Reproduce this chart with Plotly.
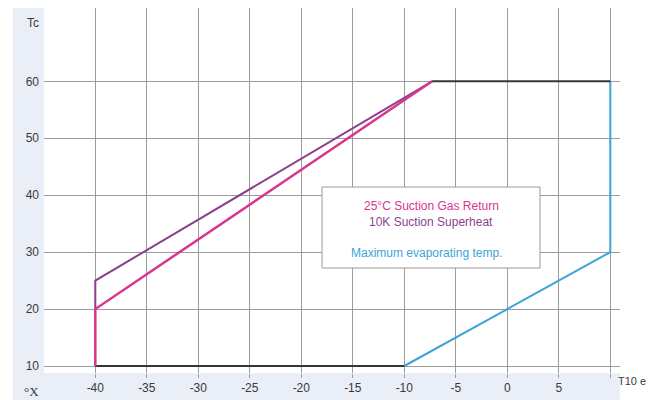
import plotly.graph_objects as go

# ---- data ----
x_ticks = [-40, -35, -30, -25, -20, -15, -10, -5, 0, 5, 10]
x_tick_labels = ["-40", "-35", "-30", "-25", "-20", "-15", "-10", "-5", "0", "5", ""]
y_ticks = [10, 20, 30, 40, 50, 60]
y_tick_labels = ["10", "20", "30", "40", "50", "60"]

low_x = [-40, -10]
low_y = [10, 10]
high_x = [-7.3, 10]
high_y = [60, 60]
max_evap_x = [-10, 10, 10]
max_evap_y = [10, 30, 60]
gas_return_x = [-40, -40, -7.3]
gas_return_y = [10, 20, 60]
superheat_x = [-40, -40, -7.3]
superheat_y = [20, 25, 60]

DARK = "#363636"
BLUE = "#3ea4d8"
MAGENTA = "#d8358f"
PURPLE = "#8c3f8c"
GRID = "#9c9c9c"
STRIP = "#eaeef7"
TXT = "#3a3a3a"

fig = go.Figure()
fig.add_trace(go.Scatter(x=max_evap_x, y=max_evap_y, mode="lines",
                         line=dict(color=BLUE, width=2), showlegend=False))
fig.add_trace(go.Scatter(x=low_x, y=low_y, mode="lines",
                         line=dict(color=DARK, width=2), showlegend=False))
fig.add_trace(go.Scatter(x=high_x, y=high_y, mode="lines",
                         line=dict(color=DARK, width=2), showlegend=False))
fig.add_trace(go.Scatter(x=superheat_x, y=superheat_y, mode="lines",
                         line=dict(color=PURPLE, width=2), showlegend=False))
fig.add_trace(go.Scatter(x=gas_return_x, y=gas_return_y, mode="lines",
                         line=dict(color=MAGENTA, width=2.5), showlegend=False))

L, R, T, B = 44, 42, 8, 27
W, H = 662, 400
pw, ph = W - L - R, H - T - B

def px(x):
    return (x - L) / pw

def py(y):
    return (H - B - y) / ph

shapes = [
    dict(type="rect", xref="paper", yref="paper", x0=px(13), x1=0, y0=py(400), y1=1,
         fillcolor=STRIP, line=dict(width=0), layer="below"),
    dict(type="rect", xref="paper", yref="paper", x0=px(13), x1=1, y0=py(400), y1=0,
         fillcolor=STRIP, line=dict(width=0), layer="below"),
    dict(type="rect", xref="paper", yref="paper", x0=px(322), x1=px(540), y0=py(268), y1=py(187),
         fillcolor="white", line=dict(color="#9a9a9a", width=1), layer="above"),
]

annotations = [
    dict(text="25°C Suction Gas Return", x=px(431), y=py(206), xref="paper", yref="paper",
         xanchor="center", yanchor="middle",
         showarrow=False, font=dict(color=MAGENTA, size=12)),
    dict(text="10K Suction Superheat", x=px(431), y=py(221.5), xref="paper", yref="paper",
         xanchor="center", yanchor="middle",
         showarrow=False, font=dict(color=PURPLE, size=12)),
    dict(text="Maximum evaporating temp.", x=px(426), y=py(253), xref="paper", yref="paper",
         xanchor="center", yanchor="middle",
         showarrow=False, font=dict(color=BLUE, size=12)),
    dict(text="Tc", x=px(41), y=py(22.5), xref="paper", yref="paper", xanchor="right",
         yanchor="middle", showarrow=False, font=dict(color=TXT, size=12)),
    dict(text="°X", x=px(40.5), y=py(392), xref="paper", yref="paper", xanchor="right",
         yanchor="middle", showarrow=False,
         font=dict(color=TXT, size=13, family="Liberation Serif, serif")),
    dict(text="T10 e", x=px(616), y=py(381), xref="paper", yref="paper", xanchor="left",
         yanchor="middle", showarrow=False, font=dict(color=TXT, size=11)),
]

x0 = -40 + (L - 95.3) / 10.3
x1 = -40 + (W - R - 95.3) / 10.3
y1 = 60 + (81.3 - T) / 5.694
y0 = 10 - (H - B - 366) / 5.694

fig.update_layout(
    width=W, height=H,
    margin=dict(l=L, r=R, t=T, b=B, pad=0, autoexpand=False),
    paper_bgcolor="white", plot_bgcolor="white",
    font=dict(family="Liberation Sans, Arial, sans-serif", size=12, color=TXT),
    shapes=shapes, annotations=annotations,
    xaxis=dict(range=[x0, x1], tickvals=x_ticks, ticktext=x_tick_labels, automargin=False,
               showgrid=True, gridcolor=GRID, gridwidth=1.2, zeroline=False,
               showline=False, ticks="outside", ticklen=4, tickcolor=GRID, tickwidth=1.2,
               tickfont=dict(size=12, color=TXT)),
    yaxis=dict(range=[y0, y1], tickvals=y_ticks, ticktext=y_tick_labels, automargin=False,
               showgrid=True, gridcolor=GRID, gridwidth=1.2, zeroline=False,
               showline=False, ticks="", ticklabelstandoff=4,
               tickfont=dict(size=12, color=TXT)),
)

fig.write_html("out.html", config={"displayModeBar": False},
               post_script="document.body.style.margin='0';document.body.style.padding='0';")
